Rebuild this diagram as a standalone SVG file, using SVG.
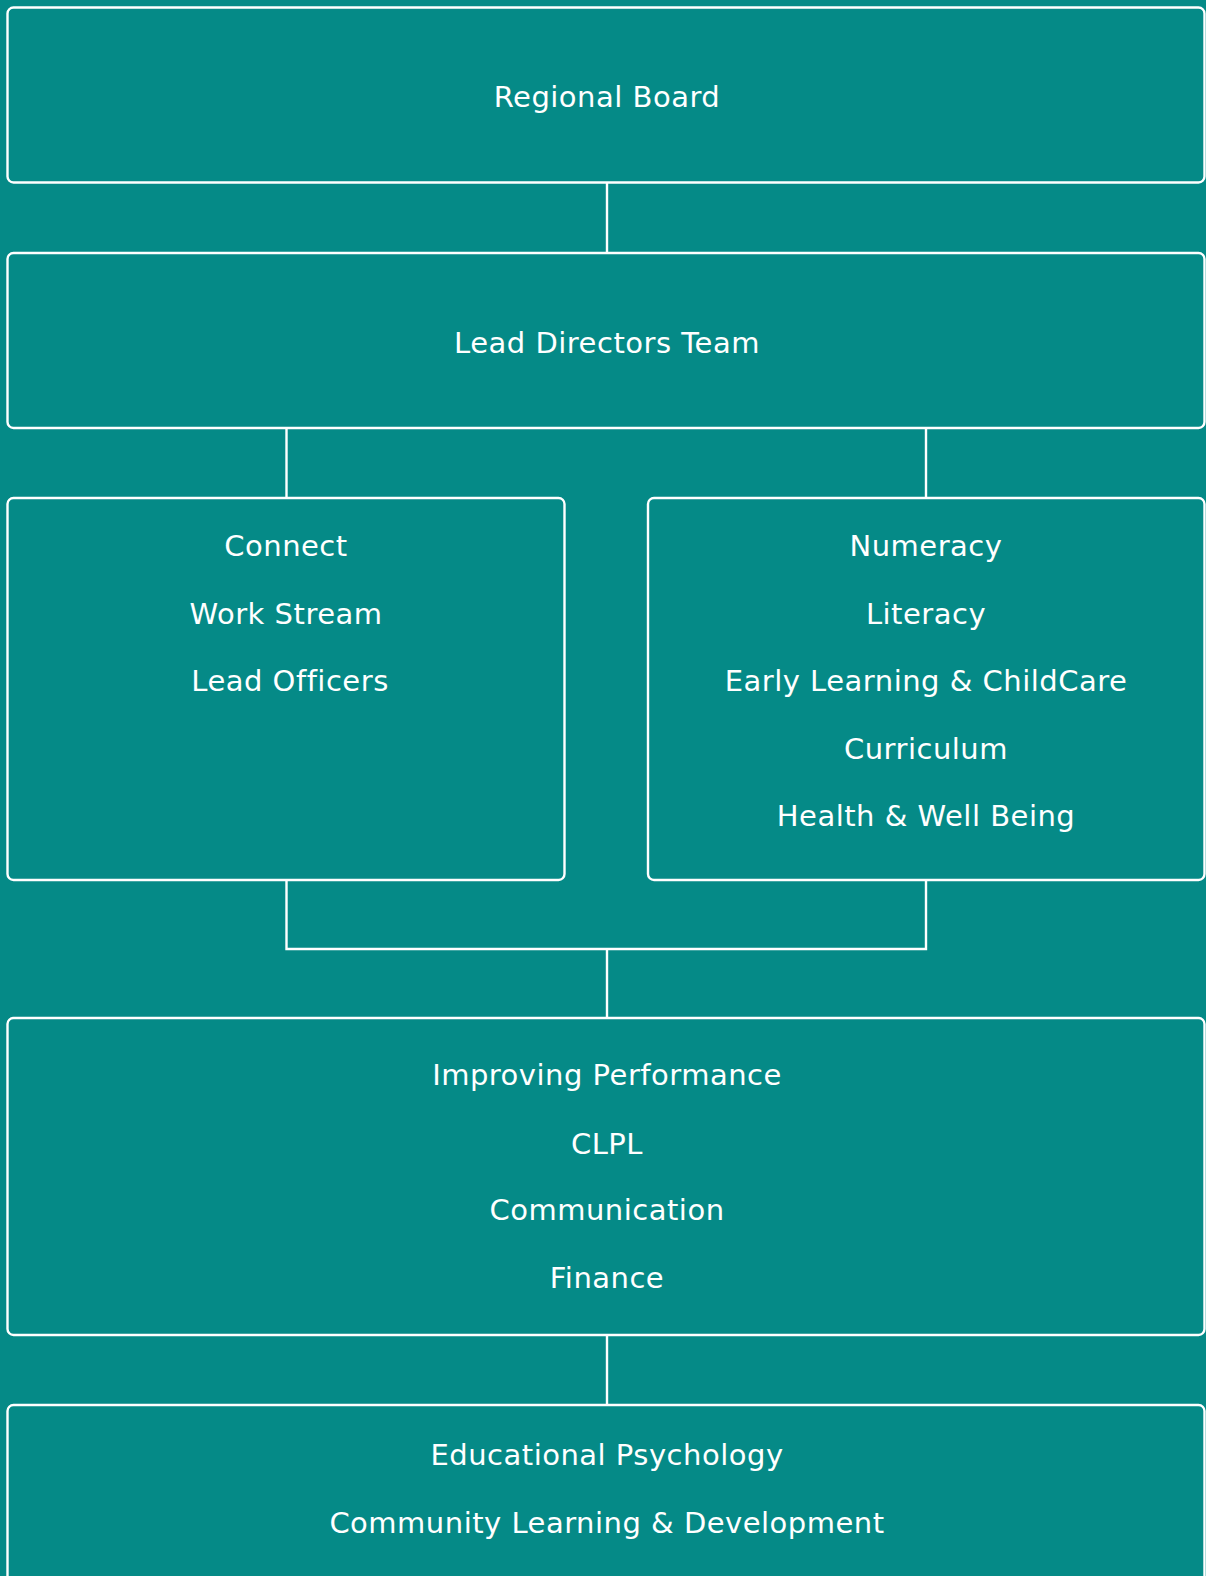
<svg xmlns="http://www.w3.org/2000/svg" width="1206" height="1576" viewBox="0 0 1206 1576">
<style>
.bg{fill:#058a87}
.box{fill:none;stroke:#ffffff;stroke-width:2.4}
.ln{stroke:#ffffff;stroke-width:2.4;fill:none}
text{fill:#ffffff;font-family:"DejaVu Sans","Open Sans",sans-serif;font-size:29px;letter-spacing:0.5px;text-anchor:middle}
</style>
<rect class="bg" x="0" y="0" width="1206" height="1576"/>
<g id="connectors">
<line class="ln" x1="607" y1="183" x2="607" y2="253"/>
<line class="ln" x1="286.5" y1="428" x2="286.5" y2="498"/>
<line class="ln" x1="926" y1="428" x2="926" y2="498"/>
<polyline class="ln" points="286.5,880 286.5,949 926,949 926,880"/>
<line class="ln" x1="607" y1="949" x2="607" y2="1018"/>
<line class="ln" x1="607" y1="1335" x2="607" y2="1405"/>
</g>
<g id="regional-board">
<rect class="box" x="7.5" y="7.5" width="1197" height="175" rx="6"/>
<text x="607" y="107">Regional Board</text>
</g>
<g id="lead-directors">
<rect class="box" x="7.5" y="253" width="1197" height="175" rx="6"/>
<text x="607" y="353">Lead Directors Team</text>
</g>
<g id="connect">
<rect class="box" x="7.5" y="498" width="557" height="382" rx="6"/>
<text x="286" y="556">Connect</text>
<text x="286" y="624">Work Stream</text>
<text x="290" y="691">Lead Officers</text>
</g>
<g id="workstreams">
<rect class="box" x="648" y="498" width="556.5" height="382" rx="6"/>
<text x="926" y="556">Numeracy</text>
<text x="926" y="624">Literacy</text>
<text x="926" y="691">Early Learning &amp; ChildCare</text>
<text x="926" y="759">Curriculum</text>
<text x="926" y="826">Health &amp; Well Being</text>
</g>
<g id="improving">
<rect class="box" x="7.5" y="1018" width="1197" height="317" rx="6"/>
<text x="607" y="1085">Improving Performance</text>
<text x="607" y="1154">CLPL</text>
<text x="607" y="1220">Communication</text>
<text x="607" y="1288">Finance</text>
</g>
<g id="education">
<rect class="box" x="7.5" y="1405" width="1197" height="200" rx="6"/>
<text x="607" y="1465">Educational Psychology</text>
<text x="607" y="1533">Community Learning &amp; Development</text>
</g>
</svg>
